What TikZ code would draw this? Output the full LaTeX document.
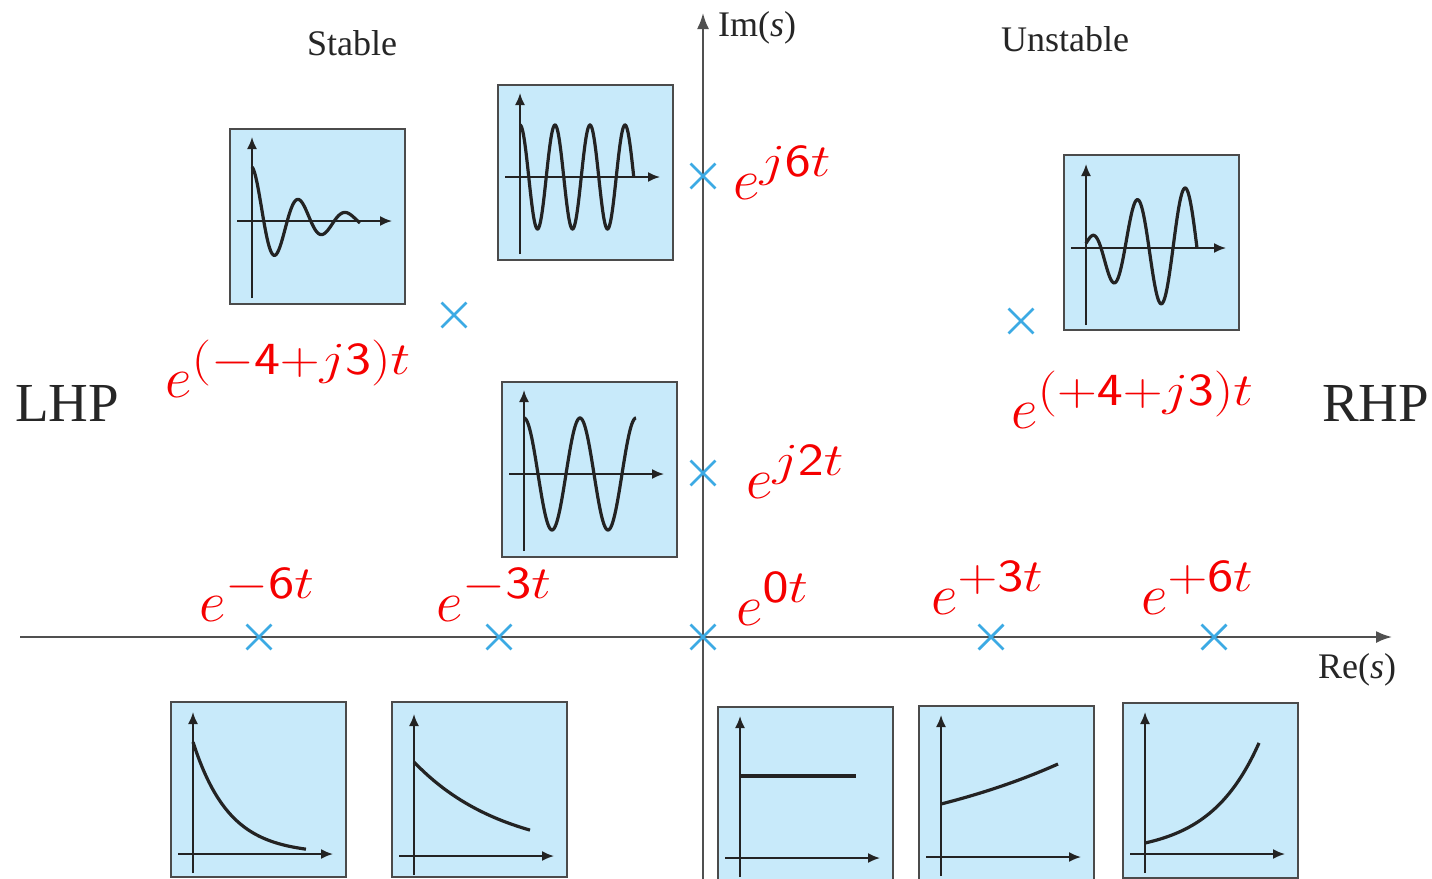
\RequirePackage{fix-cm}
\documentclass[tikz,border=0pt]{standalone}
\usepackage{graphicx}
\usepackage[no-math]{fontspec}
\newfontfamily\tnr{Liberation Serif}
\usetikzlibrary{arrows.meta,shapes.misc}
\definecolor{boxfill}{RGB}{200,234,250}
\definecolor{boxline}{RGB}{75,75,75}
\definecolor{axgray}{RGB}{80,80,80}
\definecolor{xblue}{RGB}{60,170,228}
\definecolor{lblred}{RGB}{245,0,0}
\definecolor{sigcol}{RGB}{35,35,35}
\newcommand\expl[1]{{\fontsize{58}{60}\selectfont$e$}\raisebox{23pt}{\scalebox{1.2}[1]{\fontsize{46}{50}\selectfont$#1$}}}
\begin{document}
\begin{tikzpicture}[x=1pt,y=-1pt,
  sbox/.style={draw=boxline, line width=2pt, fill=boxfill, minimum width=175pt, minimum height=175pt, anchor=north west, inner sep=0pt},
  iax/.style={draw=sigcol, line width=1.8pt, -{Latex[length=12pt,width=10pt]}},
  sig/.style={draw=sigcol, line width=3.2pt, smooth},
  pole/.style={cross out, draw=xblue, line width=2.8pt, minimum size=22pt, inner sep=0pt},
  mainax/.style={draw=axgray, line width=2pt, -{Latex[length=16pt,width=12pt]}},
  lbl/.style={text=lblred, inner sep=0pt, anchor=base west},
  blk/.style={font={\tnr\fontsize{36}{40}\selectfont}, inner sep=0pt, text=black!85},
  big/.style={font={\tnr\fontsize{55}{60}\selectfont}, inner sep=0pt, text=black!85, anchor=base west}]
\useasboundingbox (0,0) rectangle (1432,878);
\fill[white] (0,0) rectangle (1432,878);

% boxes
\node[sbox] (b1) at (229,128) {};
\node[sbox] (b2) at (497,84) {};
\node[sbox] (b3) at (501,381) {};
\node[sbox] (b4) at (1063,154) {};
\node[sbox] (b5) at (170,701) {};
\node[sbox] (b6) at (391,701) {};
\node[sbox] (b7) at (717,706) {};
\node[sbox] (b8) at (918,705) {};
\node[sbox] (b9) at (1122,702) {};

% box 1: damped oscillation
\begin{scope}[shift={(252,221)}]
  \draw[iax] (-15,0) -- (140,0);
  \draw[iax] (0,77) -- (0,-84);
  \draw[sig] plot[domain=0:108, samples=160] (\x, {-54*exp(-0.0197*\x)*cos(\x/47*360)});
\end{scope}
% box 2: fast oscillation
\begin{scope}[shift={(520,177)}]
  \draw[iax] (-15,0) -- (140,0);
  \draw[iax] (0,77) -- (0,-84);
  \draw[sig] plot[domain=0:113.75, samples=200] (\x, {-52*cos(\x/35*360)});
\end{scope}
% box 3: slower oscillation
\begin{scope}[shift={(524,474)}]
  \draw[iax] (-15,0) -- (140,0);
  \draw[iax] (0,77) -- (0,-84);
  \draw[sig] plot[domain=0:112, samples=160] (\x, {-56*cos(\x/56*360)});
\end{scope}
% box 4: growing oscillation
\begin{scope}[shift={(1086,248)}]
  \draw[iax] (-15,0) -- (140,0);
  \draw[iax] (0,77) -- (0,-84);
  \draw[sig] plot[domain=0:111, samples=160] (\x, {-(5+60*(1-exp(-\x/40)))*cos((\x-3)/48*360)});
\end{scope}
% box 5: fast decay
\begin{scope}[shift={(193,854)}]
  \draw[iax] (-15,0) -- (140,0);
  \draw[iax] (0,19) -- (0,-142);
  \draw[sig] plot[domain=0:113, samples=100] (\x, {-112*exp(-\x/36)});
\end{scope}
% box 6: slow decay
\begin{scope}[shift={(414,856)}]
  \draw[iax] (-15,0) -- (140,0);
  \draw[iax] (0,19) -- (0,-142);
  \draw[sig] plot[domain=0:116, samples=100] (\x, {-94*exp(-\x/90)});
\end{scope}
% box 7: constant
\begin{scope}[shift={(740,858)}]
  \draw[iax] (-15,0) -- (140,0);
  \draw[iax] (0,19) -- (0,-142);
  \draw[sig] (0,-82) -- (116,-82);
\end{scope}
% box 8: slow growth
\begin{scope}[shift={(941,857)}]
  \draw[iax] (-15,0) -- (140,0);
  \draw[iax] (0,19) -- (0,-142);
  \draw[sig] plot[domain=0:117, samples=100] (\x, {-53*exp(\x/208)});
\end{scope}
% box 9: fast growth
\begin{scope}[shift={(1145,854)}]
  \draw[iax] (-15,0) -- (140,0);
  \draw[iax] (0,19) -- (0,-142);
  \draw[sig] plot[domain=0:114, samples=100] (\x, {-11*exp(\x/49.3)});
\end{scope}

% main axes
\coordinate (xs) at (20,637);
\coordinate (xe) at (1392,637);
\coordinate (ys) at (703,880);
\coordinate (ye) at (703,13);
\draw[mainax] (xs) -- (xe);
\draw[mainax] (ys) -- (ye);

% poles
\node[pole] (p1) at (259,637) {};
\node[pole] (p2) at (499,637) {};
\node[pole] (p3) at (703,637) {};
\node[pole] (p4) at (991,637) {};
\node[pole] (p5) at (1214,637) {};
\node[pole] (p6) at (703,473) {};
\node[pole] (p7) at (703,176) {};
\node[pole] (p8) at (454,315) {};
\node[pole] (p9) at (1021,321) {};

% red labels
\node[lbl] (l1) at (199,621) {\expl{-\mathsf{6}t}};
\node[lbl] (l2) at (436,621) {\expl{-\mathsf{3}t}};
\node[lbl] (l3) at (736,625) {\expl{\mathsf{0}t}};
\node[lbl] (l4) at (931,614) {\expl{+\mathsf{3}t}};
\node[lbl] (l5) at (1141,614) {\expl{+\mathsf{6}t}};
\node[lbl] (l6) at (746,498) {\expl{j\mathsf{2}t}};
\node[lbl] (l7) at (733,199) {\expl{j\mathsf{6}t}};
\node[lbl] (l8) at (165,397) {\expl{(-\mathsf{4}{+}j\mathsf{3})t}};
\node[lbl] (l9) at (1011,428) {\expl{(+\mathsf{4}{+}j\mathsf{3})t}};

% black labels
\node[blk, anchor=base] (stable) at (352,55) {Stable};
\node[blk, anchor=base] (unstable) at (1065,51) {Unstable};
\node[blk, anchor=base west] (im) at (718,36) {Im(\textit{s})};
\node[blk, anchor=base west] (re) at (1318,678) {Re(\textit{s})};
\node[big] (lhp) at (15,421) {LHP};
\node[big] (rhp) at (1322,421) {RHP};
\end{tikzpicture}
\end{document}
